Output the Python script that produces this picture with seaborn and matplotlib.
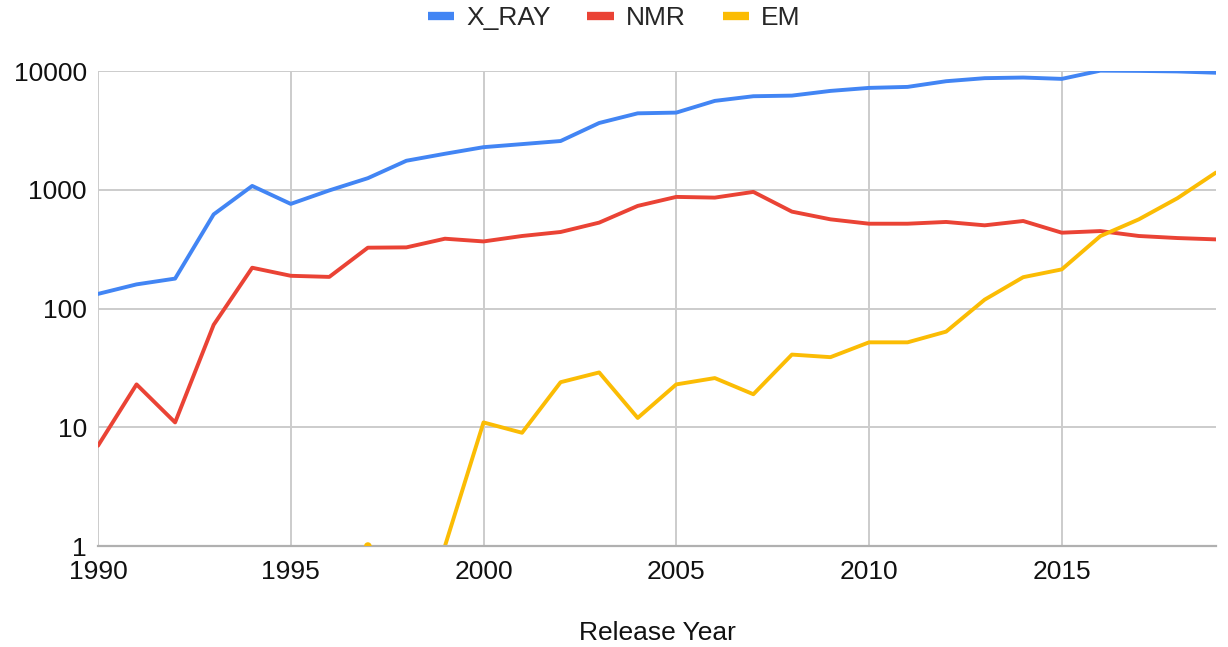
import matplotlib
matplotlib.use("Agg")
import matplotlib.pyplot as plt
from matplotlib.ticker import FixedLocator, FixedFormatter
import numpy as np
import pandas as pd
import seaborn as sns

years = list(range(1990, 2020))
xray = [133, 160, 179, 622, 1080, 762, 990, 1255, 1760, 2015,
        2290, 2430, 2580, 3660, 4415, 4477, 5620, 6150, 6225, 6820,
        7230, 7370, 8230, 8730, 8840, 8610, 10100, 10050, 9950, 9700]
nmr = [7, 23, 11, 73, 221, 189, 185, 326, 328, 388,
       368, 409, 442, 530, 733, 873, 861, 962, 656, 565,
       519, 519, 537, 503, 547, 436, 450, 409, 393, 383]
# 0 = no entries that year (not drawn on the log axis)
em = [0, 0, 0, 0, 0, 0, 0, 1, 0, 1,
      11, 9, 24, 29, 12, 23, 26, 19, 41, 39,
      52, 52, 64, 119, 184, 214, 408, 565, 851, 1400]

methods = ["X_RAY", "NMR", "EM"]
colors = {"X_RAY": "#4285F4", "NMR": "#EA4335", "EM": "#FBBC04"}


def long_form():
    rows = []
    for name, vals in zip(methods, [xray, nmr, em]):
        seg = 0
        prev = False
        for y, v in zip(years, vals):
            if v <= 0:
                if prev:
                    seg += 1
                prev = False
                continue
            rows.append(dict(year=y, count=v, method=name, seg=seg))
            prev = True
    df = pd.DataFrame(rows)
    df["unit"] = df["method"] + "_" + df["seg"].astype(str)
    return df


def main():
    sns.set_theme(style="white")
    plt.rcParams["font.family"] = ["Liberation Sans", "DejaVu Sans"]

    df = long_form()
    sizes = df.groupby("unit")["year"].transform("size")
    lone = df[sizes == 1]

    fig = plt.figure(figsize=(12.28, 6.47), dpi=100)
    ax = fig.add_axes([0.0798, 0.156, 0.9104, 0.734])

    sns.lineplot(df, x="year", y="count", hue="method", units="unit",
                 estimator=None, palette=colors, hue_order=methods,
                 linewidth=2.8, ax=ax, legend=False)
    sns.scatterplot(lone, x="year", y="count", hue="method",
                    palette=colors, s=30, edgecolor="none",
                    legend=False, ax=ax, zorder=3)

    ax.set_yscale("log")
    ax.set_ylim(1, 10000)
    ax.set_xlim(1990, 2019)

    ax.xaxis.set_major_locator(FixedLocator([1990, 1995, 2000, 2005, 2010, 2015]))
    ax.yaxis.set_major_locator(FixedLocator([1, 10, 100, 1000, 10000]))
    ax.yaxis.set_major_formatter(FixedFormatter(["1", "10", "100", "1000", "10000"]))
    ax.yaxis.set_minor_locator(FixedLocator([]))
    ax.tick_params(axis="both", length=0, labelsize=19, colors="#111111")
    ax.tick_params(axis="x", pad=10)
    ax.tick_params(axis="y", pad=8)

    ax.grid(True, color="#cccccc", linewidth=1.4)
    ax.set_axisbelow(True)
    for side in ["top", "right", "left"]:
        ax.spines[side].set_visible(False)
    ax.spines["bottom"].set_color("#b0b0b0")
    ax.spines["bottom"].set_linewidth(1.6)

    ax.set_xlabel("Release Year", fontsize=19, labelpad=27, color="#111111")
    ax.set_ylabel("")

    handles = [plt.Line2D([], [], color=colors[m], linewidth=6,
                          solid_capstyle="butt") for m in methods]
    fig.legend(handles, methods, loc="center", bbox_to_anchor=(0.5, 0.972),
               ncol=3, frameon=False, fontsize=19, handlelength=1.0,
               handletextpad=0.45, columnspacing=1.4)

    fig.savefig("out.png", dpi=100)


if __name__ == "__main__":
    main()
